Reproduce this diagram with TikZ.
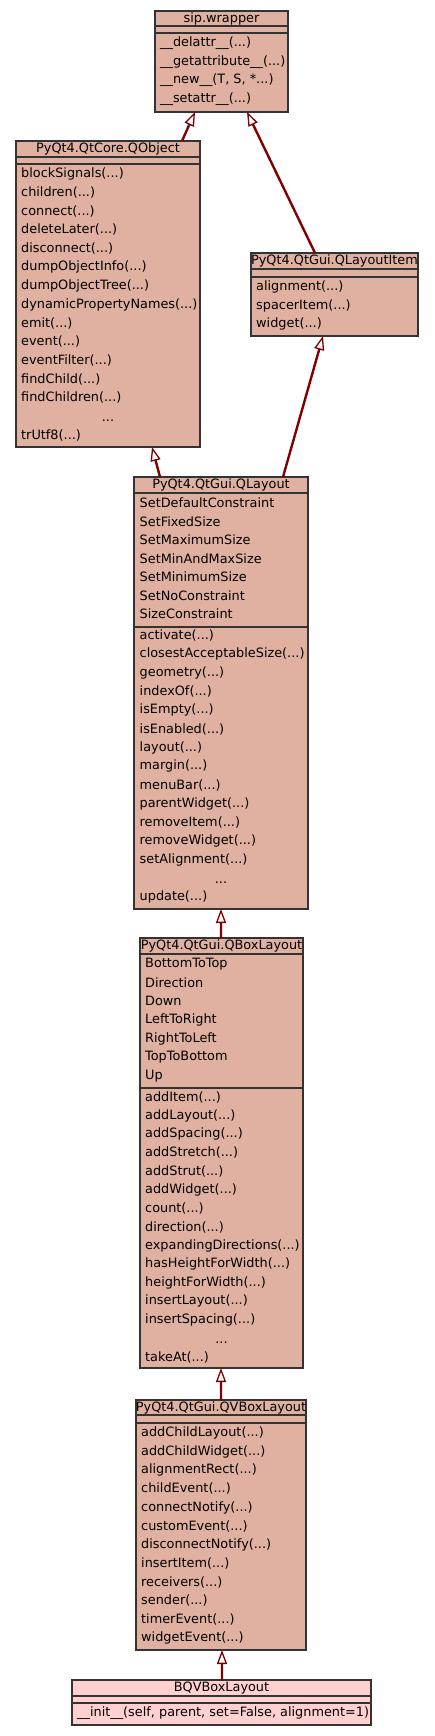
\documentclass[tikz,border=0pt]{standalone}
\usepackage{fontspec}
\setmainfont{DejaVu Sans}
\usetikzlibrary{arrows.meta}
\definecolor{basebg}{HTML}{E0B0A0}
\definecolor{selbg}{HTML}{FFD0D0}
\definecolor{inhcol}{HTML}{800000}
\definecolor{boxline}{HTML}{333333}
\newcommand\umlfont{\fontsize{12.85bp}{15bp}\selectfont}
\newcommand\tdots{...}
\newcommand\pa{(\tdots)}
\tikzset{
  cls/.style={rectangle, draw=boxline, line width=1.2bp, fill=basebg, anchor=north west, inner sep=0pt, outer sep=0pt},
  ttl/.style={font=\umlfont, inner sep=0pt, anchor=center},
  rowtxt/.style={font=\umlfont, inner sep=0pt, anchor=west},
  dots/.style={font=\umlfont, inner sep=0pt, anchor=center},
  sepline/.style={draw=boxline, line width=1.2bp},
  inhlink/.style={draw=inhcol, line width=2.4bp, -{Triangle[length=14bp, width=10bp, line width=1.3bp, fill=white]}},
}
% rows: #1 x, #2 first y, #3 step, #4 name prefix, #5 list
\newcommand\umlrows[5]{%
  \foreach \t [count=\i from 0] in {#5} {\node[rowtxt] (#4-\i) at (#1,{#2+\i*#3}) {\t};}}
\begin{document}
\begin{tikzpicture}[x=1bp,y=-1bp]
\useasboundingbox[fill=white] (0,0) rectangle (435,1736);

% sip.wrapper
\node[cls, minimum width=133bp, minimum height=101bp] (sip) at (155,11) {};
\node[ttl] (sip-t) at (221.5,18.5) {sip.wrapper};
\draw[sepline] ([yshift=-15bp]sip.north west) -- ([yshift=-15bp]sip.north east);
\draw[sepline] ([yshift=-22bp]sip.north west) -- ([yshift=-22bp]sip.north east);
\umlrows{160}{43}{18.67}{sipm}{\_\_delattr\_\_\pa, \_\_getattribute\_\_\pa, {\_\_new\_\_(T, S, *\tdots)}, \_\_setattr\_\_\pa}

% PyQt4.QtCore.QObject
\node[cls, minimum width=184bp, minimum height=306bp] (obj) at (16,141) {};
\node[ttl] (obj-t) at (108,149) {PyQt4.QtCore.QObject};
\draw[sepline] ([yshift=-16bp]obj.north west) -- ([yshift=-16bp]obj.north east);
\draw[sepline] ([yshift=-23bp]obj.north west) -- ([yshift=-23bp]obj.north east);
\umlrows{21}{174}{18.64}{objm}{blockSignals\pa, children\pa, connect\pa, deleteLater\pa, disconnect\pa, dumpObjectInfo\pa, dumpObjectTree\pa, dynamicPropertyNames\pa, emit\pa, event\pa, eventFilter\pa, findChild\pa, findChildren\pa}
\node[dots] (obj-d) at (108,{174+13*18.64+4}) {\tdots};
\node[rowtxt] (obj-l) at (21,{174+14*18.64}) {trUtf8\pa};

% PyQt4.QtGui.QLayoutItem
\node[cls, minimum width=167bp, minimum height=83bp] (item) at (251,253) {};
\node[ttl] (item-t) at (334.5,261) {PyQt4.QtGui.QLayoutItem};
\draw[sepline] ([yshift=-16bp]item.north west) -- ([yshift=-16bp]item.north east);
\draw[sepline] ([yshift=-24bp]item.north west) -- ([yshift=-24bp]item.north east);
\umlrows{256}{287}{18.5}{itemm}{alignment\pa, spacerItem\pa, widget\pa}

% PyQt4.QtGui.QLayout
\node[cls, minimum width=174bp, minimum height=432bp] (lay) at (134,477) {};
\node[ttl] (lay-t) at (221,485) {PyQt4.QtGui.QLayout};
\draw[sepline] ([yshift=-16bp]lay.north west) -- ([yshift=-16bp]lay.north east);
\umlrows{139.5}{503}{18.5}{laya}{SetDefaultConstraint, SetFixedSize, SetMaximumSize, SetMinAndMaxSize, SetMinimumSize, SetNoConstraint, SizeConstraint}
\draw[sepline] ([yshift=-150bp]lay.north west) -- ([yshift=-150bp]lay.north east);
\umlrows{139.5}{635.5}{18.7}{laym}{activate\pa, closestAcceptableSize\pa, geometry\pa, indexOf\pa, isEmpty\pa, isEnabled\pa, layout\pa, margin\pa, menuBar\pa, parentWidget\pa, removeItem\pa, removeWidget\pa, setAlignment\pa}
\node[dots] (lay-d) at (221,{635.5+13*18.7+4}) {\tdots};
\node[rowtxt] (lay-l) at (139.5,{635.5+14*18.7}) {update\pa};

% PyQt4.QtGui.QBoxLayout
\node[cls, minimum width=163bp, minimum height=430bp] (box) at (140,938) {};
\node[ttl] (box-t) at (221.5,946) {PyQt4.QtGui.QBoxLayout};
\draw[sepline] ([yshift=-16bp]box.north west) -- ([yshift=-16bp]box.north east);
\umlrows{145}{964}{18.67}{boxa}{BottomToTop, Direction, Down, LeftToRight, RightToLeft, TopToBottom, Up}
\draw[sepline] ([yshift=-150bp]box.north west) -- ([yshift=-150bp]box.north east);
\umlrows{145}{1097}{18.57}{boxm}{addItem\pa, addLayout\pa, addSpacing\pa, addStretch\pa, addStrut\pa, addWidget\pa, count\pa, direction\pa, expandingDirections\pa, hasHeightForWidth\pa, heightForWidth\pa, insertLayout\pa, insertSpacing\pa}
\node[dots] (box-d) at (221.5,{1097+13*18.57+4}) {\tdots};
\node[rowtxt] (box-l) at (145,{1097+14*18.57}) {takeAt\pa};

% PyQt4.QtGui.QVBoxLayout
\node[cls, minimum width=170bp, minimum height=250bp] (vbox) at (136,1400) {};
\node[ttl] (vbox-t) at (221,1407.5) {PyQt4.QtGui.QVBoxLayout};
\draw[sepline] ([yshift=-15bp]vbox.north west) -- ([yshift=-15bp]vbox.north east);
\draw[sepline] ([yshift=-23bp]vbox.north west) -- ([yshift=-23bp]vbox.north east);
\umlrows{141}{1433}{18.64}{vboxm}{addChildLayout\pa, addChildWidget\pa, alignmentRect\pa, childEvent\pa, connectNotify\pa, customEvent\pa, disconnectNotify\pa, insertItem\pa, receivers\pa, sender\pa, timerEvent\pa, widgetEvent\pa}

% BQVBoxLayout
\node[cls, fill=selbg, minimum width=299bp, minimum height=45bp] (bqv) at (72,1680) {};
\node[ttl] (bqv-t) at (221.5,1688) {BQVBoxLayout};
\draw[sepline] ([yshift=-16bp]bqv.north west) -- ([yshift=-16bp]bqv.north east);
\draw[sepline] ([yshift=-23bp]bqv.north west) -- ([yshift=-23bp]bqv.north east);
\node[rowtxt] (bqv-m) at (77,1713.5) {\_\_init\_\_(self, parent, set=False, alignment=1)};

% inheritance links
\draw[inhlink] ([xshift=166bp]obj.north west) -- ([xshift=40bp]sip.south west);
\draw[inhlink] ([xshift=64bp]item.north west) -- ([xshift=92bp]sip.south west);
\draw[inhlink] ([xshift=26bp]lay.north west) -- ([xshift=136bp]obj.south west);
\draw[inhlink] ([xshift=149bp]lay.north west) -- ([xshift=72bp]item.south west);
\draw[inhlink] ([xshift=81bp]box.north west) -- ([xshift=87bp]lay.south west);
\draw[inhlink] ([xshift=85bp]vbox.north west) -- ([xshift=81bp]box.south west);
\draw[inhlink] ([xshift=150bp]bqv.north west) -- ([xshift=86bp]vbox.south west);
\end{tikzpicture}
\end{document}
